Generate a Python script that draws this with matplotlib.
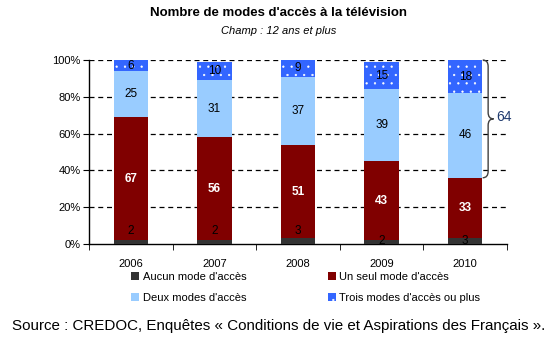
import matplotlib.pyplot as plt
import numpy as np
from matplotlib.path import Path
from matplotlib.patches import PathPatch, Patch

plt.rcParams['font.family'] = ['Liberation Sans', 'DejaVu Sans']
plt.rcParams['hatch.linewidth'] = 0.4

years = ['2006', '2007', '2008', '2009', '2010']
aucun = [2, 2, 3, 2, 3]
un_seul = [67, 56, 51, 43, 33]
deux = [25, 31, 37, 39, 46]
trois = [6, 10, 9, 15, 18]

series = [
    ("Aucun mode d'accès", aucun, '#333333', 'black'),
    ("Un seul mode d'accès", un_seul, '#800000', 'white'),
    ("Deux modes d'accès", deux, '#99ccff', 'black'),
    ("Trois modes d'accès ou plus", trois, '#3366ff', 'black'),
]
# hauteur du libellé de la première série (au-dessus de la barre, trop fine)
aucun_label_y = [7, 7, 7, 1.5, 1.5]

fig = plt.figure(figsize=(5.58, 3.46), dpi=100)
ax = fig.add_axes([0.1595, 0.2948, 0.749, 0.5318])

x = np.arange(len(years))
bottom = np.zeros(len(years))
handles = []
for k, (name, vals, col, tcol) in enumerate(series):
    vals = np.array(vals, dtype=float)
    hatch = '..' if k == 3 else None
    ax.bar(x, vals, 0.41, bottom=bottom, color=col, edgecolor='white' if hatch else col,
           linewidth=0, hatch=hatch, zorder=3)
    handles.append(Patch(facecolor=col, edgecolor='white' if hatch else col,
                         linewidth=0, hatch=hatch, label=name))
    for i in range(len(years)):
        if k == 0:
            ty = aucun_label_y[i]
        else:
            ty = bottom[i] + vals[i] / 2
        ax.text(x[i], ty, '%d' % vals[i], ha='center', va='center', fontsize=8.5,
                color=tcol, fontweight='bold' if tcol == 'white' else 'normal', zorder=5)
    bottom += vals

# grille pointillée
for g in [20, 40, 60, 80, 100]:
    ax.axhline(g, color='black', lw=0.9, ls=(0, (4, 3)), zorder=1)

ax.set_xlim(-0.5, 4.5)
ax.set_ylim(0, 100)
ax.set_yticks([0, 20, 40, 60, 80, 100])
ax.set_yticklabels(['%d%%' % v for v in [0, 20, 40, 60, 80, 100]], fontsize=8)
ax.set_xticks(x)
ax.set_xticklabels(years, fontsize=8)
ax.set_xticks(np.arange(-0.5, 5, 1), minor=True)
ax.tick_params(axis='x', which='major', length=0, pad=11)
ax.tick_params(axis='x', which='minor', length=4, direction='out')
ax.tick_params(axis='y', length=4, direction='out', pad=2)
for s in ['top', 'right']:
    ax.spines[s].set_visible(False)
ax.spines['left'].set_linewidth(1)
ax.spines['bottom'].set_linewidth(1)

# accolade sur les deux segments du haut de 2010
x0 = x[4] + 0.21
w = 0.13
y_bot = aucun[4] + un_seul[4]
y_top = 100
ym = (y_bot + y_top) / 2
r = 3.5
verts = [(x0, y_top), (x0 + w / 2, y_top), (x0 + w / 2, y_top - r),
         (x0 + w / 2, ym + r),
         (x0 + w / 2, ym), (x0 + w, ym),
         (x0 + w / 2, ym), (x0 + w / 2, ym - r),
         (x0 + w / 2, y_bot + r),
         (x0 + w / 2, y_bot), (x0, y_bot)]
codes = [Path.MOVETO, Path.CURVE3, Path.CURVE3, Path.LINETO,
         Path.CURVE3, Path.CURVE3, Path.CURVE3, Path.CURVE3,
         Path.LINETO, Path.CURVE3, Path.CURVE3]
ax.add_patch(PathPatch(Path(verts, codes), fill=False, edgecolor='#404040', lw=1,
                       clip_on=False, zorder=4))
ax.text(x0 + w + 0.03, ym + 1, '%d' % (deux[4] + trois[4]), ha='left', va='center',
        fontsize=10, color='#1f3a6e')

fig.text(0.5, 0.962, "Nombre de modes d'accès à la télévision", ha='center', va='center',
         fontsize=9.5, fontweight='bold')
fig.text(0.5, 0.91, 'Champ : 12 ans et plus', ha='center', va='center',
         fontsize=8, style='italic')

fig.legend(handles=[handles[0], handles[2], handles[1], handles[3]], ncol=2,
           loc='upper left', bbox_to_anchor=(0.235, 0.215), frameon=False,
           fontsize=8, handlelength=0.75, handleheight=0.75, handletextpad=0.3,
           columnspacing=7.3, labelspacing=1.05, borderaxespad=0, borderpad=0)

fig.text(0.5, 0.058, 'Source : CREDOC, Enquêtes « Conditions de vie et Aspirations des Français ».',
         ha='center', va='center', fontsize=10.9)

fig.savefig('out.png', dpi=100)
